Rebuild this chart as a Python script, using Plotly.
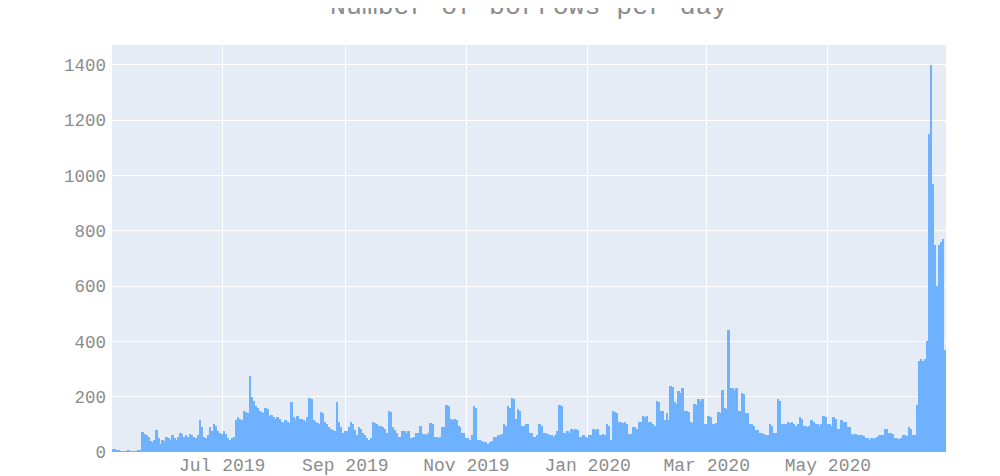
import pandas as pd
import plotly.graph_objects as go

start_date = "2019-05-07"

may19 = [12, 10, 8, 4, 3, 3, 2, 3, 4, 3, 2, 3, 3, 4, 5, 72, 65, 60, 55, 40, 35, 45, 80, 50, 30]
jun19 = [45, 40, 55, 50, 45, 60, 50, 45, 55, 70, 65, 55, 60, 55, 65, 60, 55, 50, 60, 115,
         90, 55, 50, 60, 90, 75, 100, 95, 75, 70]
jul19 = [65, 75, 65, 50, 45, 50, 55, 115, 125, 120, 115, 150, 145, 140, 275, 200, 185, 165, 160, 150,
         145, 140, 160, 155, 130, 135, 125, 120, 125, 120, 110]
aug19 = [105, 115, 110, 105, 180, 125, 120, 130, 120, 120, 115, 110, 125, 195, 190, 115, 110, 105, 100, 145,
         140, 110, 100, 90, 85, 80, 75, 180, 110, 90, 70]
sep19 = [75, 75, 90, 110, 100, 80, 60, 90, 85, 70, 60, 50, 45, 50, 110, 105, 100, 95, 95, 90,
         85, 70, 150, 145, 90, 80, 70, 55, 55, 75]
oct19 = [75, 70, 75, 50, 50, 55, 70, 70, 95, 65, 65, 60, 70, 105, 100, 55, 55, 50, 55, 90,
         90, 170, 165, 120, 115, 120, 115, 95, 90, 70, 70]
nov19 = [50, 50, 45, 60, 165, 160, 45, 45, 40, 35, 35, 30, 35, 40, 55, 55, 60, 60, 65, 100,
         95, 165, 160, 195, 190, 120, 155, 150, 95, 95]
dec19 = [100, 100, 70, 70, 55, 55, 60, 100, 95, 70, 70, 65, 60, 60, 55, 60, 75, 170, 165, 70,
         70, 75, 70, 85, 80, 85, 80, 55, 55, 60, 55]
jan20 = [50, 60, 60, 85, 80, 85, 60, 60, 65, 60, 100, 95, 45, 150, 145, 140, 110, 110, 105, 110,
         100, 65, 65, 90, 90, 85, 110, 110, 130, 125, 130]
feb20 = [110, 110, 100, 95, 185, 180, 150, 150, 115, 140, 115, 240, 235, 180, 175, 220, 215, 230, 150, 150,
         145, 110, 105, 175, 170, 190, 185, 190, 100]
mar20 = [100, 130, 125, 100, 100, 105, 145, 140, 225, 160, 155, 440, 230, 230, 225, 230, 150, 150, 215, 210,
         140, 140, 100, 100, 95, 80, 80, 70, 70, 65, 60]
apr20 = [60, 100, 95, 70, 70, 190, 185, 100, 100, 100, 110, 105, 110, 100, 95, 100, 125, 120, 95, 95,
         90, 95, 115, 110, 100, 100, 95, 100, 130, 125]
may20 = [100, 100, 95, 125, 120, 85, 85, 115, 110, 110, 90, 90, 65, 60, 65, 60, 62, 60, 58, 50,
         50, 45, 50, 48, 50, 55, 60, 60, 62, 85, 85]
jun20 = [70, 70, 65, 50, 50, 48, 50, 60, 60, 58, 90, 85, 60, 60, 170, 330, 335, 330, 335, 400,
         1150, 1400, 970, 750, 600, 750, 760, 770, 370]

borrows = (may19 + jun19 + jul19 + aug19 + sep19 + oct19 + nov19 + dec19
           + jan20 + feb20 + mar20 + apr20 + may20 + jun20)
dates = pd.date_range(start_date, periods=len(borrows), freq="D")

y_ticks = [0, 200, 400, 600, 800, 1000, 1200, 1400]
title_text = "Number of borrows per day"

FONT = "Courier New, Liberation Mono, monospace"
GREY = "#8c8c8c"

fig = go.Figure(
    go.Bar(
        x=dates,
        y=borrows,
        marker=dict(color="#6eb2ff", line=dict(width=0)),
    )
)

fig.update_layout(
    width=1000,
    height=476,
    margin=dict(l=104, r=62, t=37, b=32, autoexpand=False),
    paper_bgcolor="white",
    plot_bgcolor="#e5ecf6",
    bargap=0,
    showlegend=False,
    font=dict(family=FONT, size=18, color=GREY),
    annotations=[
        dict(
            text=title_text,
            xref="paper", yref="paper",
            x=0.5, y=1.094,
            xanchor="center", yanchor="middle",
            showarrow=False,
            font=dict(family=FONT, size=26.5, color=GREY),
        )
    ],
)

fig.update_xaxes(
    type="date",
    dtick="M2",
    tick0="2019-07-01",
    tickformat="%b %Y",
    showgrid=True,
    gridcolor="white",
    gridwidth=1,
    zeroline=False,
    showline=False,
    ticks="",
    automargin=False,
    tickfont=dict(family=FONT, size=18, color=GREY),
)

fig.update_yaxes(
    range=[0, 1472],
    tickvals=y_ticks,
    showgrid=True,
    gridcolor="white",
    gridwidth=1,
    zeroline=False,
    showline=False,
    ticks="",
    automargin=False,
    ticklabelstandoff=5,
    tickfont=dict(family=FONT, size=17.5, color=GREY),
)

fig.write_html("out.html")
